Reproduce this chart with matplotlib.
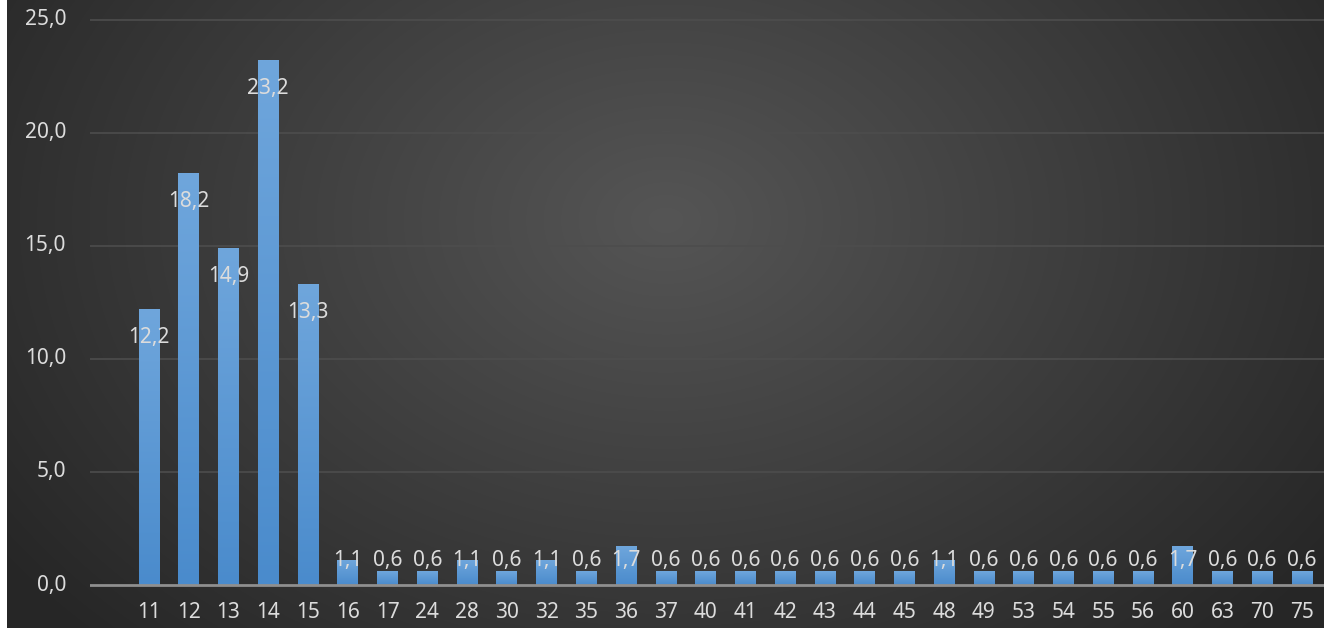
import numpy as np
import matplotlib
matplotlib.use("Agg")
import matplotlib.pyplot as plt
from matplotlib.colors import LinearSegmentedColormap

categories = ["11", "12", "13", "14", "15", "16", "17", "24", "28", "30", "32", "35", "36", "37",
              "40", "41", "42", "43", "44", "45", "48", "49", "53", "54", "55", "56", "60", "63", "70", "75"]
values = [12.2, 18.2, 14.9, 23.2, 13.3, 1.1, 0.6, 0.6, 1.1, 0.6, 1.1, 0.6, 1.7, 0.6,
          0.6, 0.6, 0.6, 0.6, 0.6, 0.6, 1.1, 0.6, 0.6, 0.6, 0.6, 0.6, 1.7, 0.6, 0.6, 0.6]
yticks = [0, 5, 10, 15, 20, 25]
ytick_labels = ["0,0", "5,0", "10,0", "15,0", "20,0", "25,0"]

W, H = 1324, 628
fig = plt.figure(figsize=(W / 100, H / 100), dpi=100, facecolor="white")

# background radial gradient
bg = fig.add_axes([7 / W, 0, 1 - 7 / W, 1])
bg.set_axis_off()
yy, xx = np.mgrid[0:H, 0:W - 7]
cx, cy = (W - 7) * 0.5, H * 0.35
r = np.sqrt(((xx - cx) / (W * 0.62)) ** 2 + ((yy - cy) / (H * 0.95)) ** 2)
r = np.clip(r, 0, 1)
inner = np.array([0x55, 0x55, 0x55]) / 255
outer = np.array([0x26, 0x26, 0x26]) / 255
img = inner[None, None, :] * (1 - r[..., None]) + outer[None, None, :] * r[..., None]
bg.imshow(img, aspect="auto", extent=[0, 1, 0, 1], zorder=0)
bg.set_xlim(0, 1)
bg.set_ylim(0, 1)

# main axes: y=0 at px 585, y=25 at px 20, x from 90 to 1324
y0_px, y25_px = 585, 20
px_per_unit = (y0_px - y25_px) / 25
bottom_val = -(H - y0_px) / px_per_unit
top_val = 25 + y25_px / px_per_unit
ax = fig.add_axes([0, 0, 1, 1])
ax.patch.set_alpha(0)
n = len(categories)
x = np.arange(n)
step = (1302 - 149) / (n - 1)
left_val = -(149 - 90) / step
ax.set_position([90 / W, 0, (W - 90) / W, 1])
right_val = left_val + (W - 90) / step
ax.set_xlim(left_val, right_val)
ax.set_ylim(bottom_val, top_val)

for s in ax.spines.values():
    s.set_visible(False)
ax.set_xticks([])
ax.set_yticks([])

# gridlines
for t in yticks[1:]:
    ax.axhline(t, color="#4d4d4d", lw=1.2, zorder=1)
ax.axhline(0, color="#8f8f8f", lw=2, zorder=3)

# bars with vertical gradient
cmap = LinearSegmentedColormap.from_list("b", ["#4a8bcc", "#6fa6dc"])
bw = 0.52
grad = np.linspace(0, 1, 256).reshape(-1, 1)
for xi, v in zip(x, values):
    ax.imshow(grad, cmap=cmap, origin="lower", aspect="auto",
              extent=[xi - bw / 2, xi + bw / 2, 0, v], zorder=2)
ax.set_xlim(left_val, right_val)
ax.set_ylim(bottom_val, top_val)

txt_color = "#dcdcdc"
font = "Noto Sans"
fs = 15
for xi, v in zip(x, values):
    ly = max(v - 1.25, 1.1)
    ax.text(xi, ly, f"{v:.1f}".replace(".", ","), ha="center", va="center",
            color=txt_color, fontsize=fs, family=font, zorder=4)

# category labels
for xi, c in zip(x, categories):
    ax.text(xi, bottom_val + (H - 613) / px_per_unit, c, ha="center", va="center",
            color=txt_color, fontsize=fs, family=font, zorder=4)

# y tick labels
for t, lab in zip(yticks, ytick_labels):
    ax.text(left_val - 24 / step, t, lab, ha="right", va="center",
            color=txt_color, fontsize=fs, family=font, zorder=4, clip_on=False)

fig.savefig("out.png", dpi=100, facecolor=fig.get_facecolor())
